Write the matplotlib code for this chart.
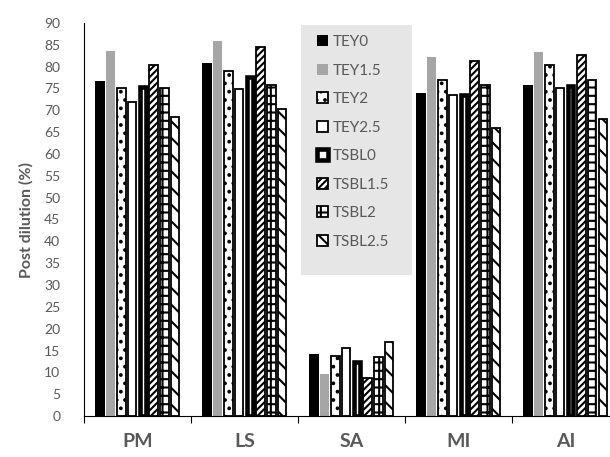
import numpy as np
import matplotlib.pyplot as plt
from matplotlib.patches import Rectangle

plt.rcParams.update({
    'font.family': ['Lato', 'DejaVu Sans'],
    'hatch.linewidth': 1.5,
})

# -----------------------------------------------------
# Data
# -----------------------------------------------------

sites = ["PM", "LS", "SA", "MI", "AI"]

series = ["TEY0", "TEY1.5", "TEY2", "TEY2.5",
          "TSBL0", "TSBL1.5", "TSBL2", "TSBL2.5"]

tey0    = [76.8, 80.9, 14.3, 73.9, 75.8]
tey1_5  = [83.5, 85.8,  9.6, 82.3, 83.4]
tey2    = [75.2, 79.0, 13.7, 76.9, 80.3]
tey2_5  = [71.8, 74.9, 15.6, 73.6, 75.0]
tsbl0   = [75.3, 77.7, 12.4, 73.6, 75.6]
tsbl1_5 = [80.3, 84.4,  8.8, 81.3, 82.7]
tsbl2   = [75.2, 75.9, 13.4, 75.9, 76.9]
tsbl2_5 = [68.4, 70.2, 17.0, 65.9, 67.9]

values = [tey0, tey1_5, tey2, tey2_5, tsbl0, tsbl1_5, tsbl2, tsbl2_5]

# bar width, fill, edge, edge width, hatch for each series
styles = [
    dict(width=0.085, facecolor="black",   edgecolor="black", linewidth=0,   hatch=None),
    dict(width=0.085, facecolor="#a6a6a6", edgecolor="none",  linewidth=0,   hatch=None),
    dict(width=0.08,  facecolor="white",   edgecolor="black", linewidth=1.3, hatch=".."),
    dict(width=0.08,  facecolor="white",   edgecolor="black", linewidth=1.3, hatch=None),
    dict(width=0.05,  facecolor="white",   edgecolor="black", linewidth=3.3, hatch=None),
    dict(width=0.08,  facecolor="white",   edgecolor="black", linewidth=1.3, hatch="/////"),
    dict(width=0.08,  facecolor="white",   edgecolor="black", linewidth=1.3, hatch="++"),
    dict(width=0.08,  facecolor="white",   edgecolor="black", linewidth=1.3, hatch="\\\\"),
]

# -----------------------------------------------------
# Plot
# -----------------------------------------------------

fig = plt.figure(figsize=(6.1, 4.57), dpi=100)
ax = fig.add_axes([0.1377, 0.0897, 0.877, 0.86])

x = np.arange(len(sites))
slot = 0.1

for i, (name, vals, st) in enumerate(zip(series, values, styles)):
    ax.bar(x + (i - 3.5) * slot, vals, label=name, zorder=2, **st)

ax.set_xlim(-0.5, len(sites) - 0.5)
ax.set_ylim(0, 90)
ax.set_yticks(np.arange(0, 91, 5))

ax.set_xticks(x)
ax.set_xticklabels(sites, fontsize=14, fontweight="bold", color="#595959")
ax.set_xticks(np.arange(-0.5, len(sites), 1), minor=True)
ax.tick_params(axis="x", which="major", length=0, pad=12)
ax.tick_params(axis="x", which="minor", length=5, width=0.8, color="black")
ax.tick_params(axis="y", length=0, pad=17, labelsize=10, labelcolor="#595959")

ax.spines["top"].set_visible(False)
ax.spines["right"].set_visible(False)
ax.spines["left"].set_linewidth(0.8)
ax.spines["bottom"].set_linewidth(0.8)

fig.text(26 / 610, 1 - 220 / 457, "Post dilution (%)", rotation=90,
         ha="center", va="center", fontsize=11.5, fontweight="bold",
         color="#595959")

# legend panel: light grey box behind the entries
fig.patches.append(Rectangle((301 / 610, 1 - 275 / 457), 111 / 610, 250 / 457,
                             transform=fig.transFigure, facecolor="#e6e6e6",
                             edgecolor="none", zorder=5))

handles, labels = ax.get_legend_handles_labels()
leg = fig.legend(handles, labels, loc="upper left",
                 bbox_to_anchor=(317 / 610, 1 - 35 / 457),
                 frameon=False, fontsize=11, handlelength=0.75,
                 handleheight=0.75, handletextpad=0.25, labelspacing=0.95,
                 borderpad=0, borderaxespad=0)
leg.set_zorder(6)
for t in leg.get_texts():
    t.set_color("#595959")

fig.savefig("out.png", dpi=100)
